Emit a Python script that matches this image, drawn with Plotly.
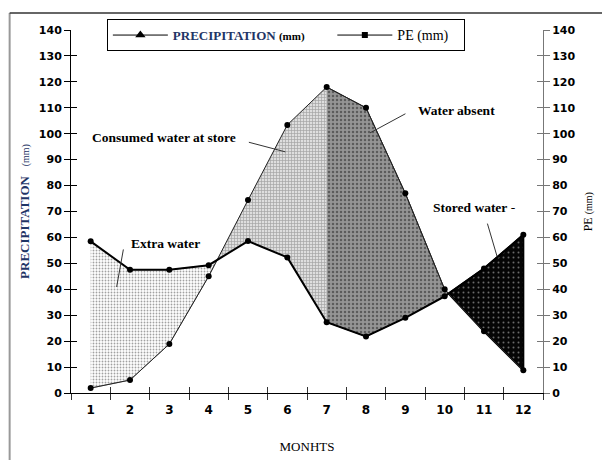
import numpy as np
import plotly.graph_objects as go

months = [1, 2, 3, 4, 5, 6, 7, 8, 9, 10, 11, 12]
month_labels = ["1", "2", "3", "4", "5", "6", "7", "8", "9", "10", "11", "12"]
precipitation = [58.5, 47.5, 47.5, 49.3, 58.6, 52.3, 27.3, 21.8, 29.0, 37.3, 48.0, 61.0]
pe = [1.9, 5.0, 18.9, 45.0, 74.4, 103.4, 118.0, 110.0, 77.0, 40.0, 23.8, 8.8]
y_ticks = list(range(0, 141, 10))

m = np.array(months, float)
P = np.array(precipitation, float)
E = np.array(pe, float)
d = P - E

# crossing points of the two curves
cross = []
for i in range(len(m) - 1):
    if d[i] * d[i + 1] < 0:
        t = d[i] / (d[i] - d[i + 1])
        cross.append(m[i] + t)
c1, c2 = cross[0], cross[-1]


def band(a, b):
    xs = [a] + [v for v in m if a < v < b] + [b]
    top = np.interp(xs, m, P)
    bot = np.interp(xs, m, E)
    return xs + xs[::-1], list(top) + list(bot[::-1])


fig = go.Figure()

regions = [
    (1, c1, dict(fillcolor="white", fillpattern=dict(shape=".", bgcolor="white", fgcolor="#444", size=3, solidity=0.3)), "#888", 1),
    (c1, 7, dict(fillcolor="#cfcfcf", fillpattern=dict(shape="+", bgcolor="#dedede", fgcolor="#6a6a6a", size=3, solidity=0.4)), "#cfcfcf", 0.5),
    (7, c2, dict(fillcolor="#8c8c8c", fillpattern=dict(shape=".", bgcolor="#959595", fgcolor="#222", size=4, solidity=0.3)), "#222", 1),
    (c2, 12, dict(fillcolor="black", fillpattern=dict(shape=".", bgcolor="#050505", fgcolor="#d0d0d0", size=5, solidity=0.12)), "black", 2),
]
for a, b, style, lc, lw in regions:
    xs, ys = band(a, b)
    fig.add_trace(go.Scatter(x=xs, y=ys, mode="lines", fill="toself",
                             line=dict(color=lc, width=lw), showlegend=False,
                             hoverinfo="skip", **style))

fig.add_trace(go.Scatter(x=months, y=pe, mode="lines+markers",
                         line=dict(color="#222", width=1),
                         marker=dict(symbol="circle", size=6, color="black"),
                         showlegend=False))
fig.add_trace(go.Scatter(x=months, y=precipitation, mode="lines+markers",
                         line=dict(color="black", width=2),
                         marker=dict(symbol="circle", size=6, color="black"),
                         showlegend=False))

# legend entries
pad1 = "\u00a0" * 7
pad2 = "\u00a0" * 3
fig.add_trace(go.Scatter(x=[None], y=[None], mode="lines+markers",
                         name="<b><span style='color:#1f3566'>PRECIPITATION</span></b> <b><span style='font-size:11px'>(mm)</span></b>" + pad1,
                         line=dict(color="black", width=1),
                         marker=dict(symbol="triangle-up", size=9, color="black")))
fig.add_trace(go.Scatter(x=[None], y=[None], mode="lines+markers",
                         name="<span style='font-size:14px'>PE (mm)</span>" + pad2,
                         line=dict(color="black", width=1),
                         marker=dict(symbol="square", size=6, color="black")))

# helper traces for overlay axes
fig.add_trace(go.Scatter(x=[None], y=[None], xaxis="x2", yaxis="y", showlegend=False))
fig.add_trace(go.Scatter(x=[None], y=[None], xaxis="x", yaxis="y2", showlegend=False))
fig.add_trace(go.Scatter(x=[None], y=[None], xaxis="x", yaxis="y3", showlegend=False))
fig.add_trace(go.Scatter(x=[None], y=[None], xaxis="x", yaxis="y4", showlegend=False))

tickfont = dict(family="DejaVu Sans", size=11, color="black", weight="bold")
serif = "Liberation Serif"
half = [v - 0.5 for v in months] + [12.5]

fig.update_layout(
    width=602, height=460,
    margin=dict(l=71, r=59, t=30, b=67, autoexpand=False),
    paper_bgcolor="white", plot_bgcolor="white",
    font=dict(family=serif, color="black"),
    xaxis=dict(range=[0.5, 12.5], tickmode="array", tickvals=months, ticktext=month_labels,
               ticks="", showline=True, linecolor="black", linewidth=1, showgrid=False,
               zeroline=False, tickfont=dict(family="DejaVu Sans", size=12, color="black", weight="bold"),
               ticklabelstandoff=6,
               minor=dict(tickmode="array", tickvals=half, ticks="outside", ticklen=6,
                          tickcolor="#333", showgrid=False),
               title=dict(text="MONHTS", font=dict(family=serif, size=13), standoff=25)),
    xaxis2=dict(range=[0.5, 12.5], overlaying="x", anchor="y", side="bottom",
                tickmode="array", tickvals=half, ticks="inside", ticklen=6, tickcolor="#333",
                showticklabels=False, showline=False, showgrid=False, zeroline=False),
    yaxis=dict(range=[0, 140], tickmode="array", tickvals=y_ticks, ticks="outside", ticklen=6,
               tickcolor="black", showline=True, linecolor="black", linewidth=1,
               showgrid=False, zeroline=False, tickfont=tickfont,
               title=dict(text="<b>PRECIPITATION</b>   <span style='font-size:10px'>(mm)</span>",
                          font=dict(family=serif, size=13, color="#1f3566"), standoff=6)),
    yaxis2=dict(range=[0, 140], overlaying="y", side="right", anchor="x", tickmode="array",
                tickvals=y_ticks, ticks="outside", ticklen=6, tickcolor="#777",
                showline=True, linecolor="#777", linewidth=1, showgrid=False, zeroline=False,
                tickfont=tickfont),
    yaxis3=dict(range=[0, 140], overlaying="y", side="left", anchor="x", tickmode="array",
                tickvals=y_ticks, ticks="inside", ticklen=6, tickcolor="black",
                showticklabels=False, showline=False, showgrid=False, zeroline=False),
    yaxis4=dict(range=[0, 140], overlaying="y", side="right", anchor="x", tickmode="array",
                tickvals=y_ticks, ticks="inside", ticklen=6, tickcolor="#777",
                showticklabels=False, showline=False, showgrid=False, zeroline=False),
    legend=dict(orientation="h", x=0.076, xanchor="left", y=1.03, yanchor="top",
                bgcolor="white", bordercolor="black", borderwidth=1,
                font=dict(family=serif, size=13, color="black"),
                itemwidth=55, traceorder="normal"),
    showlegend=True,
)

# right axis title
fig.add_annotation(xref="paper", yref="paper", x=1.095, y=0.5, xanchor="center", yanchor="middle",
                   text="PE <span style='font-size:10px'>(mm)</span>", textangle=-90,
                   showarrow=False, font=dict(family=serif, size=12, color="black"))

ann_font = dict(family=serif, size=13.5, color="black")
labels = [
    ("<b>Consumed water at store</b>", 2.86, 98.7),
    ("<b>Extra water</b>", 2.9, 57.8),
    ("<b>Water absent</b>", 10.3, 108.8),
    ("<b>Stored water</b> -", 10.75, 71.7),
]
for text, x, y in labels:
    fig.add_annotation(x=x, y=y, text=text, showarrow=False, font=ann_font)

leaders = [
    (5.95, 93.0, -38, -10),
    (1.66, 40.9, 7, -39),
    (8.1, 100.3, 37, -20),
    (11.33, 52.8, -10, -34),
]
for x, y, ax, ay in leaders:
    fig.add_annotation(x=x, y=y, text="", showarrow=True, arrowhead=0, arrowwidth=1,
                       arrowcolor="#333", ax=ax, ay=ay)

# page frame lines
fig.add_shape(type="line", xref="paper", yref="paper", x0=-0.13, x1=-0.13, y0=-0.19, y1=1.047,
              line=dict(color="#999", width=2))
fig.add_shape(type="line", xref="paper", yref="paper", x0=-0.13, x1=1.13, y0=1.047, y1=1.047,
              line=dict(color="#333", width=1.5))

fig.write_html("out.html", config={"displayModeBar": False},
               post_script="document.body.style.margin='0px';")
